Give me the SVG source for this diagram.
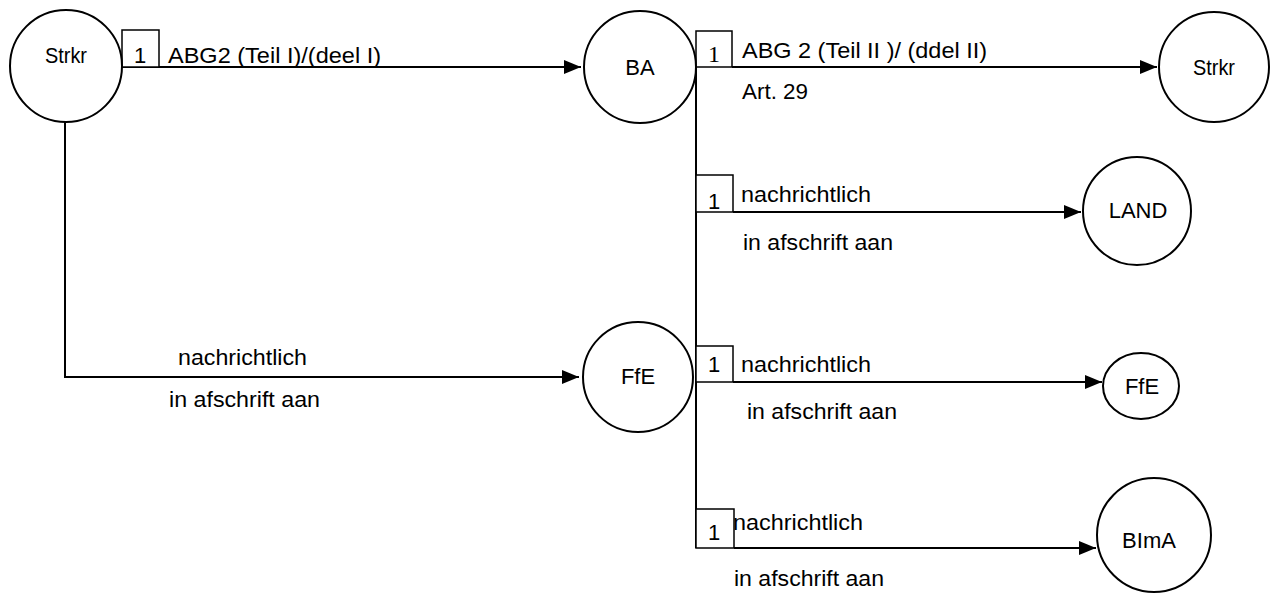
<svg xmlns="http://www.w3.org/2000/svg" width="1279" height="594" viewBox="0 0 1279 594">
<style>
.n{fill:#fff;stroke:#000;stroke-width:2}
.t{font-family:"Liberation Sans",Arial,sans-serif;font-size:22px;fill:#000;text-anchor:middle}
.l{font-family:"Liberation Sans",Arial,sans-serif;font-size:22px;fill:#000}
.b{fill:#fff;stroke:#000;stroke-width:1.5}
.c{fill:none;stroke:#000;stroke-width:2}
.s{font-family:"Liberation Serif","Times New Roman",serif;font-size:24px;fill:#000;text-anchor:middle}
</style>
<defs>
<marker id="a" markerUnits="userSpaceOnUse" markerWidth="18" markerHeight="14" refX="17" refY="7" orient="auto">
<path d="M0,0 L17,7 L0,14 z" fill="#000"/>
</marker>
</defs>
<g id="connectors">
<path class="c" d="M122,67 H581" marker-end="url(#a)"/>
<path class="c" d="M65,120 V377 H579" marker-end="url(#a)"/>
<path class="c" d="M696,67 V548"/>
<path class="c" d="M732,67 H1157" marker-end="url(#a)"/>
<path class="c" d="M733,212 H1081" marker-end="url(#a)"/>
<path class="c" d="M733,382 H1102" marker-end="url(#a)"/>
<path class="c" d="M734,548 H1096" marker-end="url(#a)"/>
</g>
<g id="labels">
<g id="lbl1"><rect class="b" x="122" y="30" width="37" height="37"/><text class="l" x="134" y="63">1</text><text class="l" x="168" y="63" textLength="213" lengthAdjust="spacingAndGlyphs">ABG2 (Teil I)/(deel I)</text></g>
<g id="lbl2"><rect class="b" x="696" y="31" width="36" height="36"/><text class="s" x="714" y="62">1</text><text class="l" x="742" y="58" textLength="245" lengthAdjust="spacingAndGlyphs">ABG 2 (Teil II )/ (ddel II)</text><text class="l" x="742" y="99" textLength="66" lengthAdjust="spacingAndGlyphs">Art. 29</text></g>
<g id="lbl3"><rect class="b" x="696" y="175" width="37" height="37"/><text class="l" x="708" y="209">1</text><text class="l" x="741" y="202" textLength="130" lengthAdjust="spacingAndGlyphs">nachrichtlich</text><text class="l" x="743" y="250" textLength="150" lengthAdjust="spacingAndGlyphs">in afschrift aan</text></g>
<g id="lbl4"><rect class="b" x="696" y="346" width="37" height="36"/><text class="l" x="708" y="372">1</text><text class="l" x="741" y="372" textLength="130" lengthAdjust="spacingAndGlyphs">nachrichtlich</text><text class="l" x="747" y="419" textLength="150" lengthAdjust="spacingAndGlyphs">in afschrift aan</text></g>
<g id="lbl5"><rect class="b" x="696" y="509" width="38" height="39"/><text class="l" x="708" y="540">1</text><text class="l" x="733" y="530" textLength="130" lengthAdjust="spacingAndGlyphs">nachrichtlich</text><text class="l" x="734" y="586" textLength="150" lengthAdjust="spacingAndGlyphs">in afschrift aan</text></g>
<g id="lbl6"><text class="l" x="178" y="365" textLength="129" lengthAdjust="spacingAndGlyphs">nachrichtlich</text><text class="l" x="169" y="407" textLength="151" lengthAdjust="spacingAndGlyphs">in afschrift aan</text></g>
</g>
<g id="n-strkr1"><circle class="n" cx="66" cy="66" r="56"/><text class="t" x="66" y="63" textLength="42" lengthAdjust="spacingAndGlyphs">Strkr</text></g>
<g id="n-ba"><circle class="n" cx="640" cy="67" r="56"/><text class="t" x="640" y="75">BA</text></g>
<g id="n-strkr2"><circle class="n" cx="1214" cy="67" r="55"/><text class="t" x="1214" y="75" textLength="42" lengthAdjust="spacingAndGlyphs">Strkr</text></g>
<g id="n-land"><circle class="n" cx="1137" cy="211" r="54"/><text class="t" x="1138" y="218">LAND</text></g>
<g id="n-ffe1"><circle class="n" cx="638" cy="377" r="55"/><text class="t" x="638" y="384">FfE</text></g>
<g id="n-ffe2"><ellipse class="n" cx="1141" cy="386" rx="38" ry="33"/><text class="t" x="1142" y="394">FfE</text></g>
<g id="n-bima"><circle class="n" cx="1154" cy="535" r="57"/><text class="t" x="1149" y="548">BImA</text></g>
</svg>
